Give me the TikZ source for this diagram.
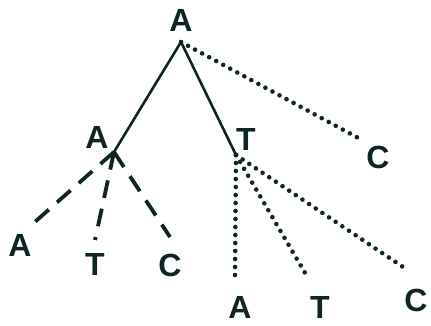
\documentclass[tikz,border=0pt]{standalone}
\usepackage{fontspec}
\setmainfont{Liberation Sans}
\definecolor{ink}{rgb}{0.06,0.14,0.14}
\begin{document}
\begin{tikzpicture}[x=1pt, y=-1pt,
    base/.style={font=\fontsize{32}{32}\selectfont\bfseries, text=ink, inner sep=0pt},
    solidedge/.style={ink, line width=2.6pt},
    dashedge/.style={ink, line width=3.8pt, dash pattern=on 18pt off 11pt},
    dotedge/.style={ink, line width=4.6pt, line cap=round, dash pattern=on 0pt off 8pt}]
    \useasboundingbox (0,0) rectangle (431,326);
    % junction points
    \coordinate (r)  at (181, 42);
    \coordinate (a)  at (114, 152);
    \coordinate (t)  at (236, 155);
    % free ends of the branches
    \coordinate (rc) at (362, 140);
    \coordinate (aa) at (28,  228);
    \coordinate (at) at (95,  240);
    \coordinate (ac) at (170, 237);
    \coordinate (ta) at (235, 275);
    \coordinate (tt) at (308, 278);
    \coordinate (tc) at (403, 267);
    \draw[solidedge] (r)--(a);
    \draw[solidedge] (r)--(t);
    \draw[dotedge] (r)--(rc);
    \draw[dashedge] (a)--(aa);
    \draw[dashedge] (a)--(at);
    \draw[dashedge] (a)--(ac);
    \draw[dotedge] (t)--(ta);
    \draw[dotedge] (t)--(tt);
    \draw[dotedge] (t)--(tc);
    \foreach \p/\pos/\lbl in {nr/{181,20}/A, na/{97,137}/A, nt/{246,139}/T, nrc/{378,157}/C,
        naa/{20,245}/A, nat/{95,264}/T, nac/{170,265}/C,
        nta/{240,307}/A, ntt/{320,307}/T, ntc/{416,300}/C} {
        \node[base] (\p) at (\pos) {\lbl};
    }
\end{tikzpicture}
\end{document}
